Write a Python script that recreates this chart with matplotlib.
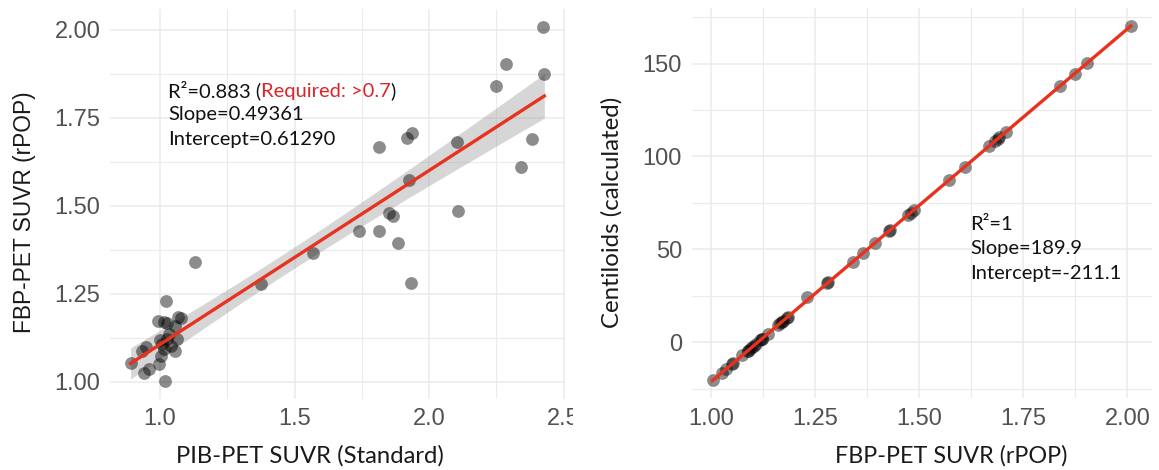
import numpy as np
import matplotlib
matplotlib.use("Agg")
import matplotlib.pyplot as plt
from matplotlib.patches import Rectangle

# PIB-PET SUVR (standard) vs FBP-PET SUVR (rPOP), one entry per subject
pib = [2.424, 2.285, 2.428, 2.250, 2.382, 2.343, 2.103, 2.109, 1.938, 1.919,
       1.815, 1.927, 1.851, 1.867, 1.741, 1.814, 1.885, 1.934, 1.570, 1.377,
       1.129, 1.024, 0.993, 1.015, 1.027, 1.067, 1.079, 1.055, 1.000, 1.027,
       1.062, 1.040, 1.015, 1.055, 0.947, 0.934, 1.002, 0.996, 0.891, 0.959,
       0.941, 1.017, 1.033, 1.009]
fbp = [2.008, 1.903, 1.873, 1.839, 1.688, 1.609, 1.682, 1.486, 1.707, 1.692,
       1.668, 1.572, 1.479, 1.472, 1.429, 1.427, 1.393, 1.281, 1.365, 1.278,
       1.340, 1.230, 1.172, 1.169, 1.166, 1.183, 1.181, 1.159, 1.118, 1.121,
       1.121, 1.102, 1.093, 1.088, 1.098, 1.088, 1.074, 1.050, 1.053, 1.036,
       1.025, 1.003, 1.135, 1.107]
centiloids = [170.2, 150.3, 144.6, 138.1, 109.5, 94.5, 108.3, 71.1, 113.1, 110.2,
              105.7, 87.4, 69.8, 68.4, 60.3, 59.9, 53.4, 32.2, 48.1, 31.6,
              43.4, 24.5, 11.5, 10.9, 10.3, 13.6, 13.2, 9.0, 1.2, 1.8,
              1.8, -1.8, -3.5, -4.5, -2.6, -4.5, -7.1, -11.7, -11.1, -14.4,
              -16.5, -20.6, 4.4, -0.9]

# fit results printed on the panels
fit1 = {'r2': '0.883', 'slope': 0.49361, 'intercept': 0.61290}
fit2 = {'r2': '1', 'slope': 189.9, 'intercept': -211.1}

left_xticks = [1.0, 1.5, 2.0, 2.5]
left_yticks = [1.00, 1.25, 1.50, 1.75, 2.00]
right_xticks = [1.00, 1.25, 1.50, 1.75, 2.00]
right_yticks = [0, 50, 100, 150]

TICK_FONT = 'Liberation Sans'
TEXT_FONT = 'Lato'
GRID = '#EBEBEB'
RED = '#E8321E'


def expand(v, frac=0.05):
  lo, hi = min(v), max(v)
  pad = (hi - lo) * frac
  return lo - pad, hi + pad


def minors(ticks):
  ticks = list(ticks)
  step = ticks[1] - ticks[0]
  out = [t + step / 2 for t in ticks]
  out.append(ticks[0] - step / 2)
  return out


def style_axes(ax, xticks, yticks, xfmt, yfmt, xlim, ylim):
  for s in ax.spines.values():
    s.set_visible(False)
  ax.set_xticks(xticks)
  ax.set_xticklabels([xfmt % t for t in xticks])
  ax.set_yticks(yticks)
  ax.set_yticklabels([yfmt % t for t in yticks])
  ax.set_xticks(minors(xticks), minor=True)
  ax.set_yticks(minors(yticks), minor=True)
  # limits after the ticks, otherwise set_ticks widens them
  ax.set_xlim(xlim)
  ax.set_ylim(ylim)
  ax.grid(which='major', color=GRID, lw=1.1)
  ax.grid(which='minor', color=GRID, lw=0.8)
  ax.set_axisbelow(True)
  ax.tick_params(which='both', length=0)
  ax.tick_params(which='major', pad=7, labelsize=17, labelcolor='#525252')
  for lab in ax.get_xticklabels() + ax.get_yticklabels():
    lab.set_fontfamily(TICK_FONT)


fig = plt.figure(figsize=(11.59, 4.70), dpi=100)
ax1 = fig.add_axes([0.0949, 0.1519, 0.3926, 0.829])
ax2 = fig.add_axes([0.5968, 0.1528, 0.3969, 0.8295])

# ---- left panel: regression with confidence band
x = np.array(pib)
y = np.array(fbp)
xs = np.linspace(x.min(), x.max(), 100)
ys = fit1['intercept'] + fit1['slope'] * xs
resid = y - (fit1['intercept'] + fit1['slope'] * x)
n = len(x)
s = np.sqrt(np.sum(resid ** 2) / (n - 2))
se = s * np.sqrt(1 / n + (xs - x.mean()) ** 2 / np.sum((x - x.mean()) ** 2))
ax1.fill_between(xs, ys - 2.018 * se, ys + 2.018 * se, color='#999999', alpha=0.4, lw=0, zorder=2)
ax1.scatter(x, y, s=85, color='black', alpha=0.45, lw=0, zorder=3)
ax1.plot(xs, ys, color=RED, lw=2.4, zorder=4)
style_axes(ax1, left_xticks, left_yticks, '%.1f', '%.2f', expand(pib), expand(fbp))

t1 = ax1.text(0.1275, 0.792, 'R\u00b2=%s (' % fit1['r2'], transform=ax1.transAxes,
              fontsize=14.5, family=TEXT_FONT, color='#111111', va='center', ha='left')
t2 = ax1.annotate('Required: >0.7', xy=(1, 0), xycoords=t1, va='bottom', ha='left',
                  fontsize=14.5, family=TEXT_FONT, color='#D8262C')
ax1.annotate(')', xy=(1, 0), xycoords=t2, va='bottom', ha='left',
             fontsize=14.5, family=TEXT_FONT, color='#111111')
ax1.text(0.1275, 0.728, 'Slope=%.5f' % fit1['slope'], transform=ax1.transAxes,
         fontsize=14.5, family=TEXT_FONT, color='#111111', va='center', ha='left')
ax1.text(0.1275, 0.664, 'Intercept=%.5f' % fit1['intercept'], transform=ax1.transAxes,
         fontsize=14.5, family=TEXT_FONT, color='#111111', va='center', ha='left')

# ---- right panel: conversion to centiloids
x2 = np.array(fbp)
y2 = np.array(centiloids)
xs2 = np.linspace(x2.min(), x2.max(), 100)
ax2.scatter(x2, y2, s=85, color='black', alpha=0.45, lw=0, zorder=3)
ax2.plot(xs2, fit2['intercept'] + fit2['slope'] * xs2, color=RED, lw=2.4, zorder=4)
style_axes(ax2, right_xticks, right_yticks, '%.2f', '%d', expand(fbp), expand(centiloids))

ax2.text(0.605, 0.4467, 'R\u00b2=%s' % fit2['r2'], transform=ax2.transAxes,
         fontsize=14.5, family=TEXT_FONT, color='#111111', va='center', ha='left')
ax2.text(0.605, 0.385, 'Slope=%.1f' % fit2['slope'], transform=ax2.transAxes,
         fontsize=14.5, family=TEXT_FONT, color='#111111', va='center', ha='left')
ax2.text(0.605, 0.321, 'Intercept=%.1f' % fit2['intercept'], transform=ax2.transAxes,
         fontsize=14.5, family=TEXT_FONT, color='#111111', va='center', ha='left')

# axis titles
W, H = 1159.0, 470.0
fig.text(25 / W, 1 - 212 / H, 'FBP-PET SUVR (rPOP)', rotation=90, ha='center', va='center',
         fontsize=16.4, family=TICK_FONT, color='#1a1a1a')
fig.text(612 / W, 1 - 212 / H, 'Centiloids (calculated)', rotation=90, ha='center', va='center',
         fontsize=17.3, family=TEXT_FONT, color='#1a1a1a')
fig.text(310 / W, 1 - 456 / H, 'PIB-PET SUVR (Standard)', ha='center', va='center',
         fontsize=17.2, family=TEXT_FONT, color='#1a1a1a')
fig.text(951 / W, 1 - 456 / H, 'FBP-PET SUVR (rPOP)', ha='center', va='center',
         fontsize=16.8, family=TEXT_FONT, color='#1a1a1a')

# the source image is cropped between the panels, cutting the last tick label
fig.patches.append(Rectangle((573 / W, 1 - 432 / H), 24 / W, 30 / H, transform=fig.transFigure,
                             facecolor='white', edgecolor='none', zorder=10))

fig.savefig('out.png', dpi=100, facecolor='white')
